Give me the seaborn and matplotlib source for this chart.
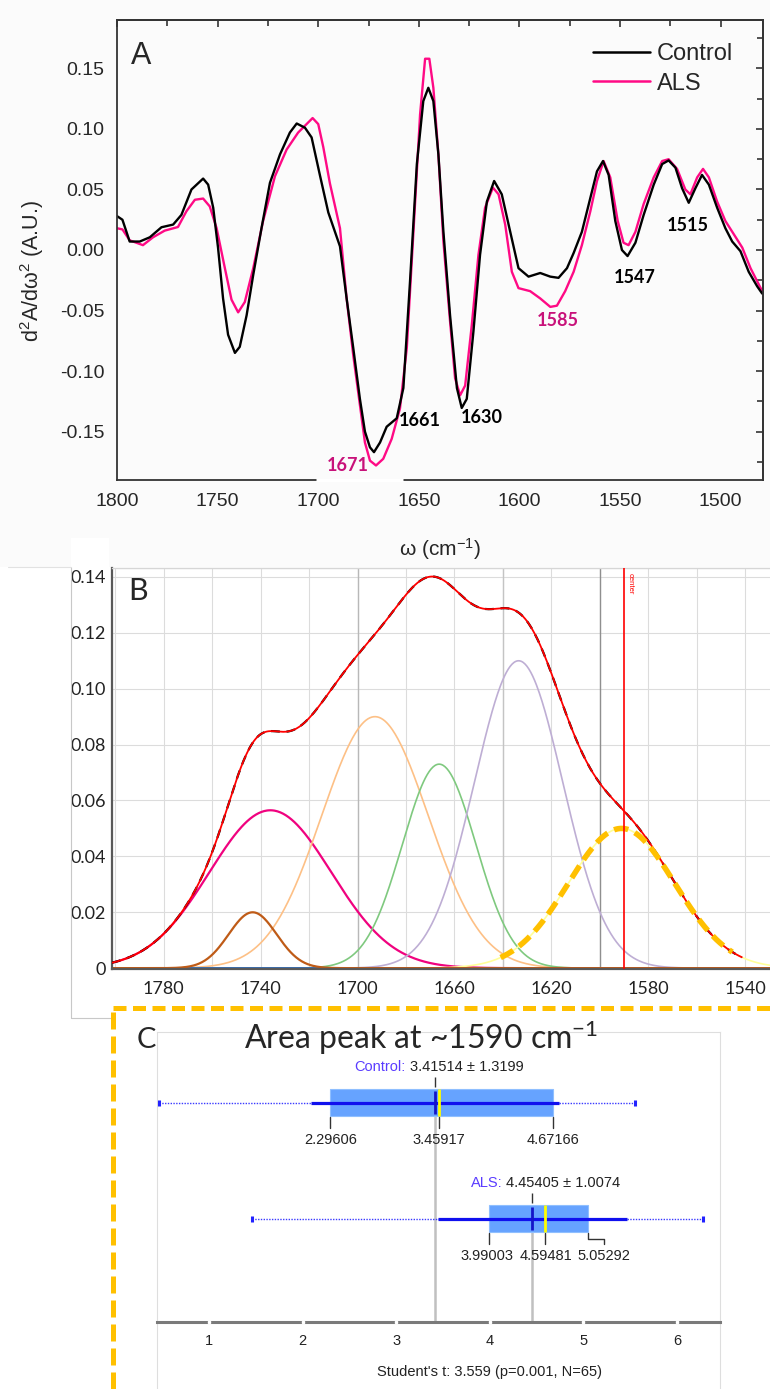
import numpy as np
import pandas as pd
import matplotlib
matplotlib.use("Agg")
import matplotlib.pyplot as plt
from matplotlib.lines import Line2D
from matplotlib.patches import Rectangle
from matplotlib.ticker import MultipleLocator, FormatStrFormatter, FuncFormatter
import seaborn as sns

sns.set_style("white")
plt.rcParams["font.family"] = ["Liberation Sans", "DejaVu Sans"]
plt.rcParams["axes.unicode_minus"] = False
plt.rcParams["mathtext.fontset"] = "custom"
plt.rcParams["mathtext.rm"] = "Liberation Sans"
plt.rcParams["mathtext.it"] = "Liberation Sans:italic"
plt.rcParams["mathtext.default"] = "regular"

# ---------------- panel A : second derivative spectra ----------------
ctrl_wn = [1800, 1797.3, 1793.7, 1788.7, 1783.7, 1777.9, 1772.1, 1768, 1763, 1757.2,
           1754.7, 1752.2, 1749.8, 1747.3, 1744.8, 1741.4, 1739, 1735.6, 1732.3, 1728.2,
           1724, 1719, 1714.1, 1710.7, 1706.6, 1703.3, 1699.2, 1695, 1689.2, 1685.9,
           1682.6, 1679.3, 1676.8, 1674.3, 1672.3, 1669.3, 1666, 1661, 1657.7, 1654.4,
           1651, 1647.8, 1645.3, 1642.8, 1640.3, 1637.8, 1634.5, 1631.1, 1628.7, 1626.2,
           1622.9, 1619.6, 1616.2, 1612.6, 1608.8, 1604.6, 1600.5, 1595.5, 1589.7, 1584.7,
           1580.6, 1576.4, 1573.1, 1569, 1564.8, 1561.5, 1558.5, 1555.7, 1552.4, 1549.1,
           1546.3, 1542.4, 1538.3, 1533.3, 1529.1, 1525.9, 1522.5, 1519.2, 1515.9, 1512.6,
           1509.3, 1505.9, 1501.8, 1497.7, 1494.3, 1490.2, 1486.1, 1481.9, 1479.4]
ctrl_d2 = [0.028, 0.025, 0.007, 0.007, 0.0105, 0.0188, 0.021, 0.029, 0.050, 0.059,
           0.054, 0.035, 0.002, -0.040, -0.070, -0.085, -0.080, -0.054, -0.0205, 0.018,
           0.0555, 0.079, 0.097, 0.1045, 0.101, 0.093, 0.062, 0.031, 0.003, -0.040,
           -0.081, -0.123, -0.150, -0.163, -0.167, -0.159, -0.146, -0.139, -0.114, -0.026,
           0.071, 0.123, 0.134, 0.123, 0.079, 0.015, -0.054, -0.114, -0.1305, -0.123,
           -0.0675, -0.004, 0.040, 0.057, 0.046, 0.015, -0.015, -0.022, -0.019, -0.022,
           -0.023, -0.015, -0.0025, 0.015, 0.043, 0.065, 0.0735, 0.062, 0.024, 0.000,
           -0.005, 0.006, 0.029, 0.054, 0.071, 0.074, 0.068, 0.051, 0.039, 0.051,
           0.062, 0.054, 0.035, 0.018, 0.007, -0.001, -0.018, -0.030, -0.036]

als_wn = [1800, 1797.3, 1793.7, 1787.1, 1782.1, 1776.3, 1769.7, 1765.5, 1761.3, 1757.2,
          1753.9, 1750.5, 1746.4, 1743.1, 1739.8, 1736.5, 1732.3, 1727.4, 1721.5, 1715.7,
          1710, 1705.8, 1702.8, 1700, 1697.5, 1694.2, 1689.2, 1685.9, 1682.6, 1679.3,
          1676.8, 1674.3, 1671.3, 1667.7, 1663.5, 1659.4, 1656, 1652.7, 1649.4, 1646.9,
          1644.8, 1642.8, 1640.3, 1637.8, 1634.5, 1632, 1629.5, 1627, 1623.7, 1620.4,
          1617.1, 1613.2, 1610.4, 1607.1, 1603.8, 1600.5, 1594.7, 1589.7, 1584.7, 1581.4,
          1577.3, 1573.1, 1569, 1564.8, 1561.5, 1558.2, 1554.9, 1551.2, 1548.3, 1545.8,
          1542.4, 1538.3, 1533.3, 1529.1, 1525.9, 1521.7, 1517.6, 1515.1, 1511.7, 1508.8,
          1505.9, 1501.8, 1497.7, 1493.5, 1489.3, 1485.2, 1479.4]
als_d2 = [0.018, 0.017, 0.008, 0.004, 0.0105, 0.016, 0.019, 0.032, 0.0415, 0.0425,
          0.036, 0.018, -0.015, -0.041, -0.0515, -0.043, -0.015, 0.024, 0.061, 0.083,
          0.097, 0.104, 0.109, 0.104, 0.085, 0.055, 0.018, -0.040, -0.087, -0.128,
          -0.159, -0.174, -0.178, -0.1725, -0.156, -0.131, -0.081, 0.015, 0.112, 0.158,
          0.158, 0.134, 0.079, 0.007, -0.059, -0.106, -0.120, -0.112, -0.062, -0.004,
          0.035, 0.0515, 0.046, 0.021, -0.018, -0.0315, -0.034, -0.040, -0.047, -0.046,
          -0.034, -0.018, 0.004, 0.032, 0.057, 0.0735, 0.060, 0.024, 0.006, 0.004,
          0.015, 0.038, 0.060, 0.0735, 0.075, 0.067, 0.050, 0.046, 0.060, 0.067,
          0.060, 0.040, 0.024, 0.013, 0.002, -0.015, -0.034]

peak_labels = ["1671", "1661", "1630", "1585", "1547", "1515"]

# ---------------- panel B : gaussian band fit ----------------
comp_names = ["pink", "orange", "green", "purple", "yellow", "brown"]
comp_center = [1736.0, 1692.8, 1666.3, 1633.5, 1591.0, 1743.3]
comp_height = [0.0565, 0.090, 0.073, 0.110, 0.050, 0.020]
comp_sigma = [25.2, 22.0, 15.2, 18.2, 22.0, 9.9]
baseline = 0.0
center_line = 1590

# ---------------- panel C : area of the ~1590 band ----------------
groups = ["Control", "ALS"]
q1 = [2.29606, 3.99003]
median = [3.45917, 4.59481]
q3 = [4.67166, 5.05292]
mean = [3.41514, 4.45405]
sd = [1.3199, 1.0074]
vmin = [0.466, 1.456]
vmax = [5.557, 6.28]
t_text = "Student's t: 3.559 (p=0.001, N=65)"

W, H = 770, 1389
fig = plt.figure(figsize=(W / 100, H / 100), dpi=100)


def box(l, t, r, b):
    return [l / W, 1 - b / H, (r - l) / W, (b - t) / H]


def fx(px):
    return px / W


def fy(py):
    return 1 - py / H


fig.patches.append(Rectangle((0, fy(567)), 1, 567 / H, transform=fig.transFigure,
                             facecolor="#fbfbfb", edgecolor="none", zorder=-10))

# ======================= A =======================
axA = fig.add_axes(box(117, 20, 763, 480))
axA.set_facecolor("none")
sns.lineplot(x=als_wn, y=als_d2, ax=axA, color="#ff0a85", lw=1.7, sort=False, estimator=None)
sns.lineplot(x=ctrl_wn, y=ctrl_d2, ax=axA, color="black", lw=1.7, sort=False, estimator=None)
axA.set_xlim(1800, 1479)
axA.set_ylim(-0.19, 0.19)
axA.xaxis.set_major_locator(MultipleLocator(50))
axA.xaxis.set_minor_locator(MultipleLocator(25))
axA.yaxis.set_major_locator(MultipleLocator(0.05))
axA.yaxis.set_minor_locator(MultipleLocator(0.025))
axA.yaxis.set_major_formatter(FormatStrFormatter("%.2f"))
axA.tick_params(which="both", direction="out", top=False, right=False, width=1.2,
                color="#333333", labelsize=14, pad=4)
axA.tick_params(which="major", length=5)
axA.tick_params(which="minor", length=4)
for s in axA.spines.values():
    s.set_color("#333333")
    s.set_linewidth(1.3)

secx = axA.secondary_xaxis("top")
secx.xaxis.set_major_locator(MultipleLocator(50))
secx.xaxis.set_minor_locator(MultipleLocator(25))
secx.tick_params(which="both", direction="in", labeltop=False, width=1.2, color="#333333")
secx.tick_params(which="major", length=5)
secx.tick_params(which="minor", length=4)
secx.spines["top"].set_color("#333333")
secx.spines["top"].set_linewidth(1.3)
secy = axA.secondary_yaxis("right")
secy.yaxis.set_major_locator(MultipleLocator(0.05))
secy.yaxis.set_minor_locator(MultipleLocator(0.025))
secy.tick_params(which="both", direction="in", labelright=False, width=1.2, color="#333333")
secy.tick_params(which="major", length=5)
secy.tick_params(which="minor", length=4)
secy.spines["right"].set_color("#333333")
secy.spines["right"].set_linewidth(1.3)

axA.set_xlabel("ω (cm$^{-1}$)", fontsize=15)
axA.xaxis.set_label_coords(0.5, -0.122)
axA.set_ylabel("d$^2$A/dω$^2$ (A.U.)", fontsize=15.5)
axA.yaxis.set_label_coords(-0.11, 0.454)

handles = [Line2D([], [], color="black", lw=1.8), Line2D([], [], color="#ff0a85", lw=1.8)]
axA.legend(handles, groups, loc="upper left", bbox_to_anchor=(0.737, 0.95), frameon=False,
           fontsize=17, handlelength=2.4, handletextpad=0.3, labelspacing=0.32,
           borderpad=0, borderaxespad=0)

label_pos = [(1685.2, -0.178), (1649.4, -0.1407), (1618.8, -0.138),
             (1581, -0.0586), (1542.7, -0.0227), (1516.6, 0.020)]
label_col = ["#c8127a", "black", "black", "#c8127a", "black", "black"]
for txt, (x, y), c in zip(peak_labels, label_pos, label_col):
    axA.text(x, y, txt, ha="center", va="center", fontsize=13, fontweight="bold",
             family=["Lato", "DejaVu Sans"], color=c)
axA.plot([1701, 1658], [-0.19, -0.19], color="white", lw=2.5, clip_on=False,
         zorder=10, solid_capstyle="butt")
fig.text(fx(141), fy(56), "A", fontsize=22, ha="center", va="center")

# ======================= B =======================
axB = fig.add_axes(box(111.7, 568, 770, 969))
wn_fit = np.linspace(1801.5, 1529.7, 700)
rows = []
for name, c, h, s in zip(comp_names, comp_center, comp_height, comp_sigma):
    rows.append(pd.DataFrame({"wn": wn_fit, "absorb": h * np.exp(-(wn_fit - c) ** 2 / (2 * s ** 2)),
                              "peak": name}))
fit_df = pd.concat(rows, ignore_index=True)

acc = sns.color_palette("Accent", 8)
comp_col = {"pink": acc[5], "orange": acc[2], "green": acc[0], "purple": acc[1],
            "yellow": acc[3], "brown": acc[6]}
comp_lw = {"pink": 1.6, "orange": 1.2, "green": 1.2, "purple": 1.2, "yellow": 1.2, "brown": 1.6}

for name in comp_names:
    if name == "brown":
        axB.plot(wn_fit, np.full_like(wn_fit, baseline), color=acc[4], lw=1.4, zorder=2)
    sub = fit_df[fit_df["peak"] == name]
    sns.lineplot(data=sub, x="wn", y="absorb", color=comp_col[name], lw=comp_lw[name],
                 sort=False, estimator=None, ax=axB, zorder=2)

total = fit_df.groupby("wn", sort=False)["absorb"].sum()
total = total[total.index >= 1541]
axB.plot(total.index, total.values, color="black", lw=1.6, ls=(0, (4, 3)), zorder=3)
axB.plot(total.index, total.values, color="#ff0000", lw=1.3, zorder=4)

band = fit_df[(fit_df["peak"] == "yellow") & (fit_df["wn"] <= 1641) & (fit_df["wn"] >= 1545)]
axB.plot(band["wn"], band["absorb"], color="#ffc000", lw=4, ls=(0, (2.6, 1.3)),
         dash_capstyle="butt", zorder=5)
axB.axvline(center_line, color="#ff0000", lw=1.2, zorder=6)
axB.annotate("center", xy=(center_line, 0.1415), xytext=(2, 0), textcoords="offset points",
             rotation=-90, ha="left", va="top", fontsize=5.5, color="#ff0000")

axB.set_xlim(1801.5, 1529.7)
axB.set_ylim(-0.0003, 0.1432)
axB.set_xticks(np.arange(1780, 1539, -40))
axB.xaxis.set_minor_locator(MultipleLocator(20))
axB.set_yticks(np.arange(0, 0.141, 0.02))
axB.yaxis.set_major_formatter(FuncFormatter(lambda v, p: "0" if abs(v) < 1e-9 else f"{v:.2f}"))
axB.set_axisbelow(True)
axB.grid(which="both", axis="x", color="#dcdcdc", lw=0.8)
axB.grid(which="major", axis="y", color="#dcdcdc", lw=0.8)
for v, c in [(1700, "#b8b8b8"), (1640, "#c4c4c4"), (1600, "#8f8f8f")]:
    axB.axvline(v, color=c, lw=1.0, zorder=0.8)
axB.tick_params(which="both", length=0, labelsize=13, labelcolor="#222222",
                labelfontfamily="Lato")
axB.tick_params(axis="x", pad=9)
axB.tick_params(axis="y", pad=4)
axB.set_xlabel("")
axB.set_ylabel("")
for k in ["left", "bottom"]:
    axB.spines[k].set_color("#595959")
    axB.spines[k].set_linewidth(1.6)
axB.spines["top"].set_color("#d6d6d6")
axB.spines["top"].set_linewidth(1.0)
axB.spines["right"].set_visible(False)
fig.text(fx(138), fy(591), "B", fontsize=22, ha="center", va="center",
         family=["Lato", "DejaVu Sans"])

# frame of panel B picture
fig.patches.append(Rectangle((fx(71), fy(567)), (109 - 71) / W, 29 / H, transform=fig.transFigure,
                             facecolor="white", edgecolor="none", zorder=-9))
fig.add_artist(Line2D([fx(71), fx(71)], [fy(567), fy(1018)], color="#c8c8c8", lw=0.8))
fig.add_artist(Line2D([fx(71), fx(113)], [fy(1018), fy(1018)], color="#c8c8c8", lw=0.8))
fig.add_artist(Line2D([fx(8), fx(71)], [fy(567), fy(567)], color="#e2e2e2", lw=0.8))

# ======================= C =======================
axC = fig.add_axes(box(157, 1031.7, 720, 1389))
axis_y = 1.888
axC.set_xlim(0.445, 6.46)
axC.set_ylim(2.468, -0.612)
for k in ["left", "right", "top"]:
    axC.spines[k].set_color("#dedede")
    axC.spines[k].set_linewidth(0.8)
axC.spines["bottom"].set_position(("data", axis_y))
axC.spines["bottom"].set_color("#7a7a7a")
axC.spines["bottom"].set_linewidth(2.2)
axC.set_yticks([])
axC.set_xticks(range(1, 7))
axC.tick_params(axis="x", length=0, pad=9, labelsize=10.5, labelcolor="#222222")
axC.plot(range(1, 7), [axis_y + 0.004] * 6, ls="none", marker="s", ms=2.0, color="white",
         zorder=6, clip_on=False)

bh = 0.233
blue_txt = "#5a3cff"
fs_c = 10.5
below_x = [list(q) for q in zip(q1, median, q3)]
below_x[1] = [3.97, 4.60, 5.22]
for i, g in enumerate(groups):
    y = i
    axC.vlines(mean[i], y + bh / 2, axis_y, color="#c0c0c0", lw=1.8, zorder=1)
    axC.hlines(y, vmin[i], vmax[i], color="#3a3aff", lw=1.0, ls=(0, (1, 1)), zorder=2)
    axC.plot([vmin[i], vmax[i]], [y, y], ls="none", marker="|", ms=5, mew=2.2,
             color="#2222ff", zorder=3)
    axC.barh(y, q3[i] - q1[i], left=q1[i], height=bh, color="#66a3ff",
             edgecolor="#8fbfff", lw=0.8, zorder=2)
    axC.hlines(y, mean[i] - sd[i], mean[i] + sd[i], color="#1010ee", lw=2.3, zorder=3)
    axC.vlines(median[i], y - bh / 2, y + bh / 2, color="#ffff00", lw=2, zorder=4)
    axC.vlines(mean[i], y - 0.1, y + 0.1, color="#1414c8", lw=2, zorder=5)
    axC.vlines(mean[i], y - 0.225, y - 0.135, color="#333333", lw=1)

    full = axC.text(median[i], y - 0.31, f"{g}: {mean[i]} ± {sd[i]}", ha="center",
                    va="center", fontsize=fs_c, alpha=0)
    axC.annotate(f"{g}:", xy=(0, 0), xycoords=full, ha="left", va="bottom",
                 fontsize=fs_c, color=blue_txt)
    axC.annotate(f"{mean[i]} ± {sd[i]}", xy=(1, 0), xycoords=full, ha="right",
                 va="bottom", fontsize=fs_c, color="#222222")

    for v, lx in zip([q1[i], median[i], q3[i]], below_x[i]):
        if abs(lx - v) < 0.03:
            axC.plot([v, v], [y + 0.12, y + 0.22], color="#333333", lw=1)
        elif lx < v:
            axC.plot([v, lx], [y + 0.12, y + 0.21], color="#333333", lw=1)
        else:
            axC.plot([v, v, lx, lx], [y + 0.12, y + 0.175, y + 0.175, y + 0.215],
                     color="#333333", lw=1)
        axC.text(lx, y + 0.325, f"{v}", ha="center", va="center", fontsize=fs_c,
                 color="#222222")

axC.text(0.59, 0.0476, t_text, transform=axC.transAxes, ha="center", va="center",
         fontsize=fs_c, color="#222222")
fig.text(fx(421), fy(1038), "Area peak at ~1590 cm$^{-1}$", fontsize=23, ha="center",
         va="center", family=["Lato", "DejaVu Sans"])
fig.text(fx(146), fy(1040), "C", fontsize=21, ha="center", va="center",
         family=["Lato", "DejaVu Sans"])

# dashed highlight frame around panel C
fig.add_artist(Line2D([fx(113), fx(113)], [0, fy(1008)], color="#ffc000", lw=3.6,
                      ls=(0, (3.4, 1.4)), solid_capstyle="butt"))
fig.add_artist(Line2D([fx(113), 1], [fy(1008), fy(1008)], color="#ffc000", lw=3.6,
                      ls=(0, (2.6, 1.3))))

fig.savefig("out.png", dpi=100, facecolor="white")
